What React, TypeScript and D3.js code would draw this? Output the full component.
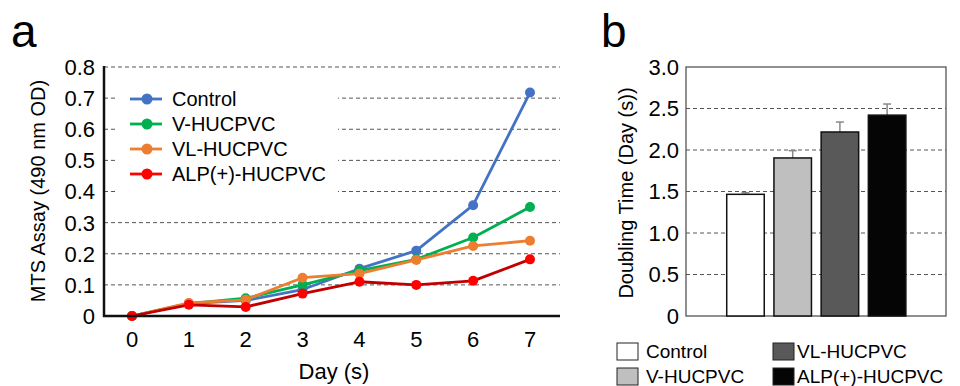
import * as d3 from 'd3';

const DAYS = [0, 1, 2, 3, 4, 5, 6, 7];
const SERIES_NAMES = ['Control', 'V-HUCPVC', 'VL-HUCPVC', 'ALP(+)-HUCPVC'];
const CONTROL = [0, 0.04, 0.05, 0.085, 0.152, 0.21, 0.356, 0.718];
const V_HUC = [0, 0.04, 0.057, 0.1, 0.146, 0.182, 0.252, 0.35];
const VL_HUC = [0, 0.042, 0.052, 0.123, 0.136, 0.18, 0.225, 0.242];
const ALP_HUC = [0, 0.036, 0.029, 0.072, 0.11, 0.1, 0.113, 0.182];
const LINE_COLORS = ['#4472C4', '#00B050', '#ED7D31', '#C00000'];
const MARKER_COLORS = ['#4472C4', '#00B050', '#ED7D31', '#FF0000'];
const A_TICKS = [0, 0.1, 0.2, 0.3, 0.4, 0.5, 0.6, 0.7, 0.8];

const BAR_CATS = ['Control', 'V-HUCPVC', 'VL-HUCPVC', 'ALP(+)-HUCPVC'];
const BAR_VALUES = [1.466, 1.904, 2.217, 2.42];
const BAR_ERRORS = [0.02, 0.088, 0.12, 0.134];
const BAR_FILLS = ['#ffffff', '#bfbfbf', '#595959', '#050505'];
const B_TICKS = [0, 0.5, 1.0, 1.5, 2.0, 2.5, 3.0];

const FONT = '"Liberation Sans", Arial, sans-serif';

export default function App() {
  const seriesA = [CONTROL, V_HUC, VL_HUC, ALP_HUC];

  // panel a scales
  const xA = d3.scaleLinear().domain([0, 7]).range([132, 530]);
  const yA = d3.scaleLinear().domain([0, 0.8]).range([316, 67]);
  const line = d3.line<number>()
    .x((_, i) => xA(DAYS[i]))
    .y(d => yA(d));

  // panel b scales
  const xB = d3.scaleBand<string>().domain(BAR_CATS).range([722, 910.6]).paddingInner(0.205).paddingOuter(0.1);
  const yB = d3.scaleLinear().domain([0, 3]).range([316, 67]);

  const aLeft = 104, aRight = 560;
  const bLeft = 686, bRight = 946;

  return (
    <svg width={960} height={386} style={{ position: 'absolute', left: 0, top: 0, background: '#fff' }} fontFamily={FONT}>
      <rect width={960} height={386} fill="#fff" />

      {/* ---------- panel a ---------- */}
      <text x={11} y={47} fontSize={46} fill="#000">a</text>

      {A_TICKS.map(t => (
        <line key={'ga' + t} x1={aLeft} x2={aRight} y1={yA(t)} y2={yA(t)}
          stroke="#555" strokeWidth={1} strokeDasharray="4,3" />
      ))}

      {/* legend background */}
      <rect x={118} y={82} width={220} height={112} fill="#fff" />

      {seriesA.map((vals, si) => (
        <g key={'s' + si}>
          <path d={line(vals) ?? ''} fill="none" stroke={LINE_COLORS[si]} strokeWidth={2.8} strokeLinejoin="round" />
          {vals.map((v, i) => (
            <circle key={i} cx={xA(DAYS[i])} cy={yA(v)} r={5} fill={MARKER_COLORS[si]} />
          ))}
        </g>
      ))}

      {/* axes */}
      <line x1={aLeft} x2={aLeft} y1={66} y2={317} stroke="#111" strokeWidth={2.5} />
      <line x1={aLeft - 1} x2={aRight} y1={316} y2={316} stroke="#111" strokeWidth={2.5} />

      {A_TICKS.map(t => (
        <text key={'ta' + t} x={95} y={yA(t)} dy="0.36em" textAnchor="end" fontSize={22} fill="#000">
          {t === 0 ? '0' : t.toFixed(1)}
        </text>
      ))}
      {DAYS.map(d => (
        <text key={'tx' + d} x={xA(d)} y={339} dy="0.36em" textAnchor="middle" fontSize={22} fill="#000">{d}</text>
      ))}
      <text x={334} y={371} dy="0.36em" textAnchor="middle" fontSize={22} fill="#000">Day (s)</text>
      <text transform="translate(38,191) rotate(-90)" textAnchor="middle" dy="0.36em" fontSize={20} fill="#000">
        MTS Assay (490 nm OD)
      </text>

      {/* legend a */}
      {SERIES_NAMES.map((name, i) => {
        const y = 99 + i * 25;
        return (
          <g key={'la' + i}>
            <line x1={130} x2={162} y1={y} y2={y} stroke={i === 3 ? '#FF0000' : LINE_COLORS[i]} strokeWidth={2.8} />
            <circle cx={147} cy={y} r={5.5} fill={MARKER_COLORS[i]} />
            <text x={172} y={y} dy="0.36em" fontSize={20} fill="#000">{name}</text>
          </g>
        );
      })}

      {/* ---------- panel b ---------- */}
      <text x={601} y={47} fontSize={46} fill="#000">b</text>

      {B_TICKS.filter(t => t > 0 && t < 3).map(t => (
        <line key={'gb' + t} x1={bLeft} x2={bRight} y1={yB(t)} y2={yB(t)}
          stroke="#555" strokeWidth={1} strokeDasharray="4,3" />
      ))}
      <rect x={bLeft} y={67} width={bRight - bLeft} height={316 - 67} fill="none" stroke="#555" strokeWidth={1.3} />

      {BAR_CATS.map((c, i) => (
        <g key={'bar' + i}>
          <line x1={xB(c)! + xB.bandwidth() / 2} x2={xB(c)! + xB.bandwidth() / 2}
            y1={yB(BAR_VALUES[i])} y2={yB(BAR_VALUES[i] + BAR_ERRORS[i])} stroke="#888" strokeWidth={1.5} />
          <line x1={xB(c)! + xB.bandwidth() / 2 - 4} x2={xB(c)! + xB.bandwidth() / 2 + 4}
            y1={yB(BAR_VALUES[i] + BAR_ERRORS[i])} y2={yB(BAR_VALUES[i] + BAR_ERRORS[i])} stroke="#888" strokeWidth={1.5} />
          <rect x={xB(c)} y={yB(BAR_VALUES[i])} width={xB.bandwidth()} height={yB(0) - yB(BAR_VALUES[i])}
            fill={BAR_FILLS[i]} stroke="#111" strokeWidth={1.5} />
        </g>
      ))}

      {B_TICKS.map(t => (
        <text key={'tb' + t} x={679} y={yB(t)} dy="0.36em" textAnchor="end" fontSize={22} fill="#000">
          {t === 0 ? '0' : t.toFixed(1)}
        </text>
      ))}
      <text transform="translate(626,193) rotate(-90)" textAnchor="middle" dy="0.36em" fontSize={20} fill="#000">
        Doubling Time (Day (s))
      </text>

      {/* legend b */}
      {BAR_CATS.map((c, i) => {
        const col = Math.floor(i / 2);
        const row = i % 2;
        const x = col === 0 ? 617 : 773;
        const y = row === 0 ? 351.5 : 376.5;
        return (
          <g key={'lb' + i}>
            <rect x={x} y={y - 8.5} width={21} height={17} fill={BAR_FILLS[i]} stroke="#222" strokeWidth={1} />
            <text x={x + (col === 0 ? 29 : 24)} y={y} dy="0.36em" fontSize={19} fill="#000">{c}</text>
          </g>
        );
      })}
    </svg>
  );
}
